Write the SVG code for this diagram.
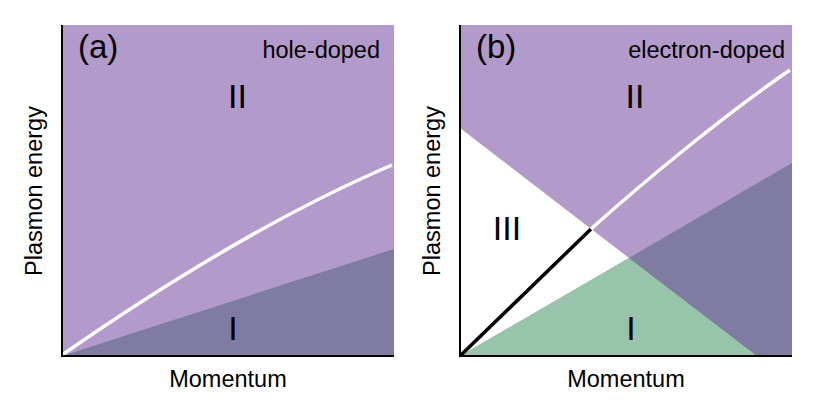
<svg xmlns="http://www.w3.org/2000/svg" width="832" height="418" viewBox="0 0 832 418">
<style>
text{font-family:"Liberation Sans",Arial,sans-serif;fill:#000}
.lbl{font-size:23.5px}
.tag{font-size:33px}
.reg{font-size:34px;text-anchor:middle}
.ax{stroke:#000;stroke-width:2;fill:none}
.wc{stroke:#fff;stroke-width:3.5;fill:none}
.bl{stroke:#000;stroke-width:3.5;fill:none}
.p{fill:#b29acb}
.d{fill:#7f7ba1}
.g{fill:#98c4ac}
</style>
<rect width="832" height="418" fill="#fff"/>
<g id="panel-a">
<rect class="p" x="62" y="25" width="332" height="331"/>
<polygon class="d" points="62,356 394,249 394,356"/>
<path class="wc" d="M62,355 C170,280 280,213 392,165"/>
<path class="ax" d="M62,25 V356 H394"/>
<text class="tag" x="78" y="58">(a)</text>
<text class="lbl" x="380" y="58" text-anchor="end">hole-doped</text>
<text class="reg" x="237.5" y="108">II</text>
<text class="reg" x="233" y="340">I</text>
<text class="lbl" x="228" y="387" text-anchor="middle">Momentum</text>
<text class="lbl" transform="translate(42,191) rotate(-90)" text-anchor="middle">Plasmon energy</text>
</g>
<g id="panel-b">
<rect class="p" x="460" y="25" width="332" height="331"/>
<polygon fill="#fff" points="460,128 629,258 460,356"/>
<polygon class="g" points="460,356 629,258 757,356"/>
<polygon class="d" points="629,258 792,163 792,356 757,356"/>
<g id="connectors">
<path class="bl" d="M460,356 L591,229"/>
<path class="wc" d="M591,229 C640,185 720,118 790,70"/>
</g>
<path class="ax" d="M460,25 V356 H792"/>
<text class="tag" x="476" y="58">(b)</text>
<text class="lbl" x="785" y="58" text-anchor="end">electron-doped</text>
<text class="reg" x="635" y="108">II</text>
<text class="reg" x="507" y="240">III</text>
<text class="reg" x="631" y="340">I</text>
<text class="lbl" x="626" y="387" text-anchor="middle">Momentum</text>
<text class="lbl" transform="translate(440,191) rotate(-90)" text-anchor="middle">Plasmon energy</text>
</g>
</svg>
